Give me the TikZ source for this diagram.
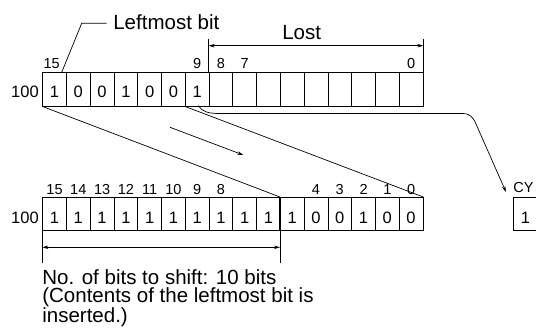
\documentclass[tikz,border=0pt]{standalone}
\usepackage{fontspec}
\setmainfont{Liberation Sans}
\usetikzlibrary{arrows.meta,calc}
\begin{document}
\begin{tikzpicture}[x=1pt,y=-1pt, line width=0.7pt,
 cell/.style={draw, rectangle, minimum width=23.77pt, minimum height=33.4pt, inner sep=0pt, anchor=north west},
 val/.style={inner sep=0pt, font=\fontsize{16.5}{16.5}\selectfont},
 bitnum/.style={inner sep=0pt, font=\fontsize{14.5}{14.5}\selectfont},
 lbl/.style={inner sep=0pt, font=\fontsize{20.5}{20.5}\selectfont},
 note/.style={inner sep=0pt, align=left, font=\fontsize{20.5}{18.3}\selectfont},
 tip/.style={-{Stealth[length=6pt,width=3.5pt]}},
 dtip/.style={{Stealth[length=6pt,width=3.5pt]}-{Stealth[length=6pt,width=3.5pt]}}]
\useasboundingbox (0,0) rectangle (536,336);

% top register
\foreach \v [count=\i from 0] in {1,0,0,1,0,0,1,{},{},{},{},{},{},{},{},{}}{
  \node[cell] (t\i) at ({42.3+\i*23.77},72.3) {};
  \node[val] (tv\i) at ($(t\i.center)+(0,2.5)$) {\v};
}
% bottom register
\foreach \v [count=\i from 0] in {1,1,1,1,1,1,1,1,1,1,1,0,0,1,0,0}{
  \node[cell] (b\i) at ({42.3+\i*23.77},197) {};
  \node[val] (bv\i) at ($(b\i.center)+(0,3.5)$) {\v};
}
\draw[line width=1.3pt] (b10.north west) -- (b10.south west);

% register labels
\node[val] (r1) at (25,91.5) {100};
\node[val] (r2) at (25,217.5) {100};

% bit numbers top
\node[bitnum] (n15) at (51.7,64) {15};
\node[bitnum] (n9) at ($(t6.north)+(0,-8.3)$) {9};
\node[bitnum] (n8) at ($(t7.north)+(0,-8.3)$) {8};
\node[bitnum] (n7) at ($(t8.north)+(0,-8.3)$) {7};
\node[bitnum] (n0) at ($(t15.north)+(0,-8.3)$) {0};
% bit numbers bottom
\foreach \n [count=\i from 0] in {15,14,13,12,11,10,9,8}
  \node[bitnum] (m\n) at ($(b\i.north)+(0,-7.5)$) {\n};
\foreach \n [count=\i from 11] in {4,3,2,1,0}
  \node[bitnum] (q\n) at ($(b\i.north)+(0,-7.5)$) {\n};

% Leftmost bit leader
\node[lbl, anchor=west] (lbt) at (113,21.7) {Leftmost bit};
\coordinate (lbh) at (106.7,23.3);
\coordinate (lbk) at (81.7,23.3);
\coordinate (lbe) at (61.7,72.3);
\draw (lbh) -- (lbk) -- (lbe);

% Lost
\coordinate (lost1) at ($(t7.north west)+(0,-33)$);
\coordinate (lost2) at ($(t15.north east)+(0,-33)$);
\draw (t7.north west) -- (lost1);
\draw (t15.north east) -- (lost2);
\coordinate (la) at ($(t7.north west)+(0,-26.6)$);
\coordinate (lb) at ($(t15.north east)+(0,-26.6)$);
\draw[dtip] (la) -- (lb);
\node[lbl] (lost) at (301.7,33) {Lost};

% shift lines
\draw (t0.south west) -- (b10.north west);
\draw (t6.south west) -- (b15.north east);
\coordinate (ma) at (170,127.3);
\coordinate (mb) at (243.3,155);
\draw[tip] (ma) -- (mb);

% CY
\node[cell] (cy) at (513.3,197) {};
\node[val] (cyv) at ($(cy.center)+(0,3.5)$) {1};
\node[bitnum, anchor=base west] (cyl) at (513,193) {CY};
\coordinate (c0) at (198.5,105.7);
\coordinate (c1) at (220,113.5);
\coordinate (c2) at (462,113.5);
\coordinate (c3) at (476,124);
\coordinate (c4) at (506,192);
\draw[tip] (c0) .. controls (203,112) and (208,113.5) .. (c1) -- (c2) .. controls (470,113.5) and (473,117) .. (c3) -- (c4);

% bottom measurement
\coordinate (d1) at ($(b0.south west)+(0,32.3)$);
\coordinate (d2) at ($(b10.south west)+(0,32.3)$);
\draw (b0.south west) -- (d1);
\draw (b10.south west) -- (d2);
\coordinate (e1) at ($(b0.south west)+(0,16.2)$);
\coordinate (e2) at ($(b10.south west)+(0,16.2)$);
\draw[dtip] (e1) -- (e2);

\node[note, anchor=north west] (tx) at (42,269) {No. of bits to shift: 10 bits\\(Contents of the leftmost bit is\\inserted.)};
\end{tikzpicture}
\end{document}
